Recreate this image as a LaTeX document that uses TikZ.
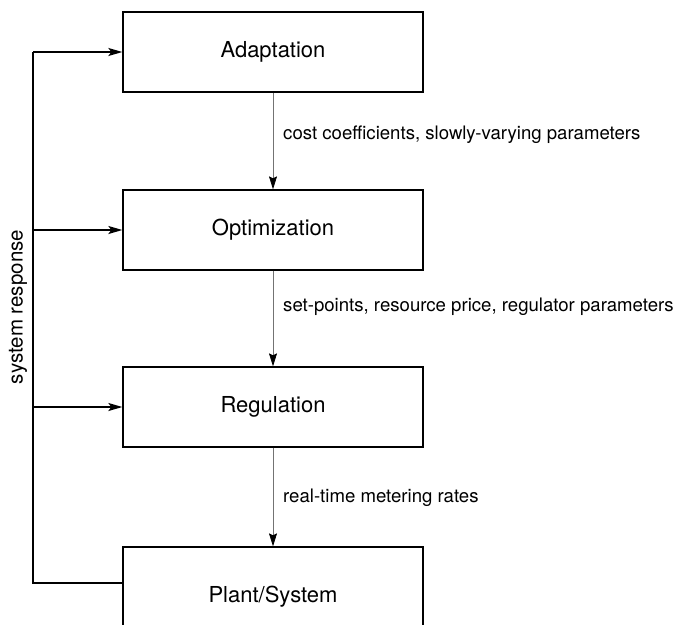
\documentclass[tikz,border=0pt]{standalone}
\usepackage{fontspec}
\setmainfont{TeX Gyre Heros}
\usetikzlibrary{arrows.meta}
\begin{document}
\begin{tikzpicture}[x=1pt,y=-1pt,
  blk/.style={draw, line width=1.3pt, minimum width=300pt, minimum height=80pt, inner sep=0pt, font=\fontsize{22}{26}\selectfont},
  lbl/.style={anchor=west, inner sep=0pt, font=\fontsize{18.6}{22}\selectfont},
  fb/.style={line width=1.4pt},
  fbarr/.style={line width=1.4pt, -{Stealth[length=14pt,width=8pt,inset=3pt]}},
  varr/.style={draw=black!55, line width=0.8pt, -{Stealth[length=13pt,width=8pt,inset=2pt,color=black,fill=black]}}]
\useasboundingbox (0,0) rectangle (679,624);
\node[blk] (adapt) at (273,52) {Adaptation};
\node[blk] (opt) at (273,230) {Optimization};
\node[blk] (reg) at (273,407) {Regulation};
\node[blk, minimum height=100pt] (plant) at (273,597) {Plant/System};
\coordinate (top) at (33,52);
\coordinate (bot) at (33,583);
\draw[fb] (plant.west |- bot) -- (bot) -- (top);
\draw[fbarr] (top) -- (adapt.west);
\draw[fbarr] (top |- opt.west) -- (opt.west);
\draw[fbarr] (top |- reg.west) -- (reg.west);
\node[rotate=90, inner sep=0pt, font=\fontsize{20.5}{24}\selectfont] (sr) at (18,307) {system response};
\draw[varr] (adapt.south) -- (opt.north);
\draw[varr] (opt.south) -- (reg.north);
\draw[varr] (reg.south) -- (plant.north);
\node[lbl] (l1) at (283,135) {cost coefficients, slowly-varying parameters};
\node[lbl] (l2) at (283,307) {set-points, resource price, regulator parameters};
\node[lbl] (l3) at (283,498) {real-time metering rates};
\end{tikzpicture}
\end{document}
